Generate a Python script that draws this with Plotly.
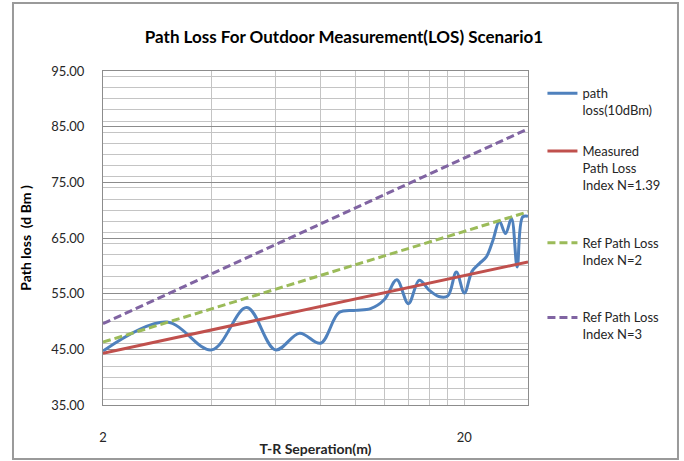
import math
import plotly.graph_objects as go

# T-R separation (m) and measured path loss
distance = [2, 3, 4, 5, 6, 7, 8, 9, 10, 11, 12, 13, 14, 15, 16, 17, 18, 19, 20,
            21, 22, 23, 24, 25, 26, 27, 28, 29, 30]
path_loss = [44.7, 49.9, 44.9, 52.5, 44.9, 47.9, 46.1, 51.6, 52.0, 52.3, 53.9, 57.5,
             53.2, 57.4, 55.6, 54.5, 54.6, 58.9, 55.1, 59.0, 60.4, 61.6, 64.6, 68.0,
             65.8, 68.5, 59.8, 68.8, 68.9]

# reference / fitted lines (end points)
line_x = [2, 30]
measured_n139 = [44.3, 60.7]
ref_n2 = [46.3, 69.7]
ref_n3 = [49.6, 84.6]

# x gridlines (log axis, Excel style: major 2, 20; minor every 2)
x_grid = [2, 4, 6, 8, 10, 12, 14, 16, 18, 20]
x_labels = ["2", "", "", "", "", "", "", "", "", "20"]

FONT = "Lato"
TXT = "#262626"
MAJOR = "#8C8C8C"
MINOR = "#C4C4C4"

fig = go.Figure()

fig.add_trace(go.Scatter(
    x=distance, y=path_loss, mode="lines", name="path<br>loss(10dBm)",
    line=dict(color="#4F81BD", width=3, shape="spline", smoothing=1.0),
    legendgroup="a"))
fig.add_trace(go.Scatter(
    x=line_x, y=measured_n139, mode="lines",
    name="Measured<br>Path Loss<br>Index N=1.39<br>&nbsp;",
    line=dict(color="#C0504D", width=3), legendgroup="b"))
fig.add_trace(go.Scatter(
    x=line_x, y=ref_n2, mode="lines", name="Ref Path Loss<br>Index N=2<br>&nbsp;",
    line=dict(color="#9BBB59", width=3, dash="8px,4px"), legendgroup="c"))
fig.add_trace(go.Scatter(
    x=line_x, y=ref_n3, mode="lines", name="Ref Path Loss<br>Index N=3",
    line=dict(color="#8064A2", width=3, dash="8px,4px"), legendgroup="d"))

fig.update_xaxes(
    type="log", range=[math.log10(2), math.log10(30)],
    tickmode="array", tickvals=x_grid, ticktext=x_labels,
    ticks="", ticklabelstandoff=20, automargin=False,
    showgrid=True, gridcolor=MINOR, gridwidth=1,
    showline=True, mirror=True, linecolor=MAJOR, linewidth=1,
    zeroline=False,
    title=dict(text="<b>T-R Seperation(m)</b>", standoff=0,
               font=dict(family=FONT, size=14, color=TXT)),
    tickfont=dict(family=FONT, size=13, color=TXT),
)
fig.update_yaxes(
    range=[35, 95], tick0=35, dtick=10, tickformat=".2f",
    ticks="", ticklabelstandoff=15, automargin=False,
    showgrid=True, gridcolor=MAJOR, gridwidth=1,
    minor=dict(dtick=2, showgrid=True, gridcolor=MINOR, gridwidth=1),
    showline=True, mirror=True, linecolor=MAJOR, linewidth=1,
    zeroline=False,
    title=dict(text="<b>Path loss&nbsp;&nbsp;(d Bm )</b>", standoff=16,
               font=dict(family=FONT, size=14, color="#000000")),
    tickfont=dict(family=FONT, size=13, color=TXT),
)

fig.update_layout(
    width=684, height=461,
    margin=dict(l=103, r=156, t=71, b=56),
    plot_bgcolor="white", paper_bgcolor="white",
    title=dict(text="<b>Path Loss For Outdoor Measurement(LOS) Scenario1</b>",
               x=0.567, xref="paper", xanchor="center",
               y=1 - 37 / 461, yref="container", yanchor="middle",
               font=dict(family=FONT, size=17, color="#000000")),
    legend=dict(x=1.034, xanchor="left", y=0.978, yanchor="top",
                valign="top", tracegroupgap=21,
                font=dict(family=FONT, size=13, color=TXT),
                bgcolor="rgba(0,0,0,0)"),
    shapes=[
        # darker major gridline at 20 m
        dict(type="line", xref="x", yref="paper",
             x0=math.log10(20), x1=math.log10(20), y0=0, y1=1,
             line=dict(color=MAJOR, width=1), layer="below"),
        # chart-area border
        dict(type="rect", xref="paper", yref="paper",
             x0=-0.2118, x1=1.3529, y0=-0.1617, y1=1.2036,
             line=dict(color="#9A9A9A", width=2), layer="below"),
    ],
)

config = {'displayModeBar': False}

# page has no body margin, so the chart sits at the window's corner
fig.write_html("out.html", config=config,
               post_script="document.body.style.margin='0';")
